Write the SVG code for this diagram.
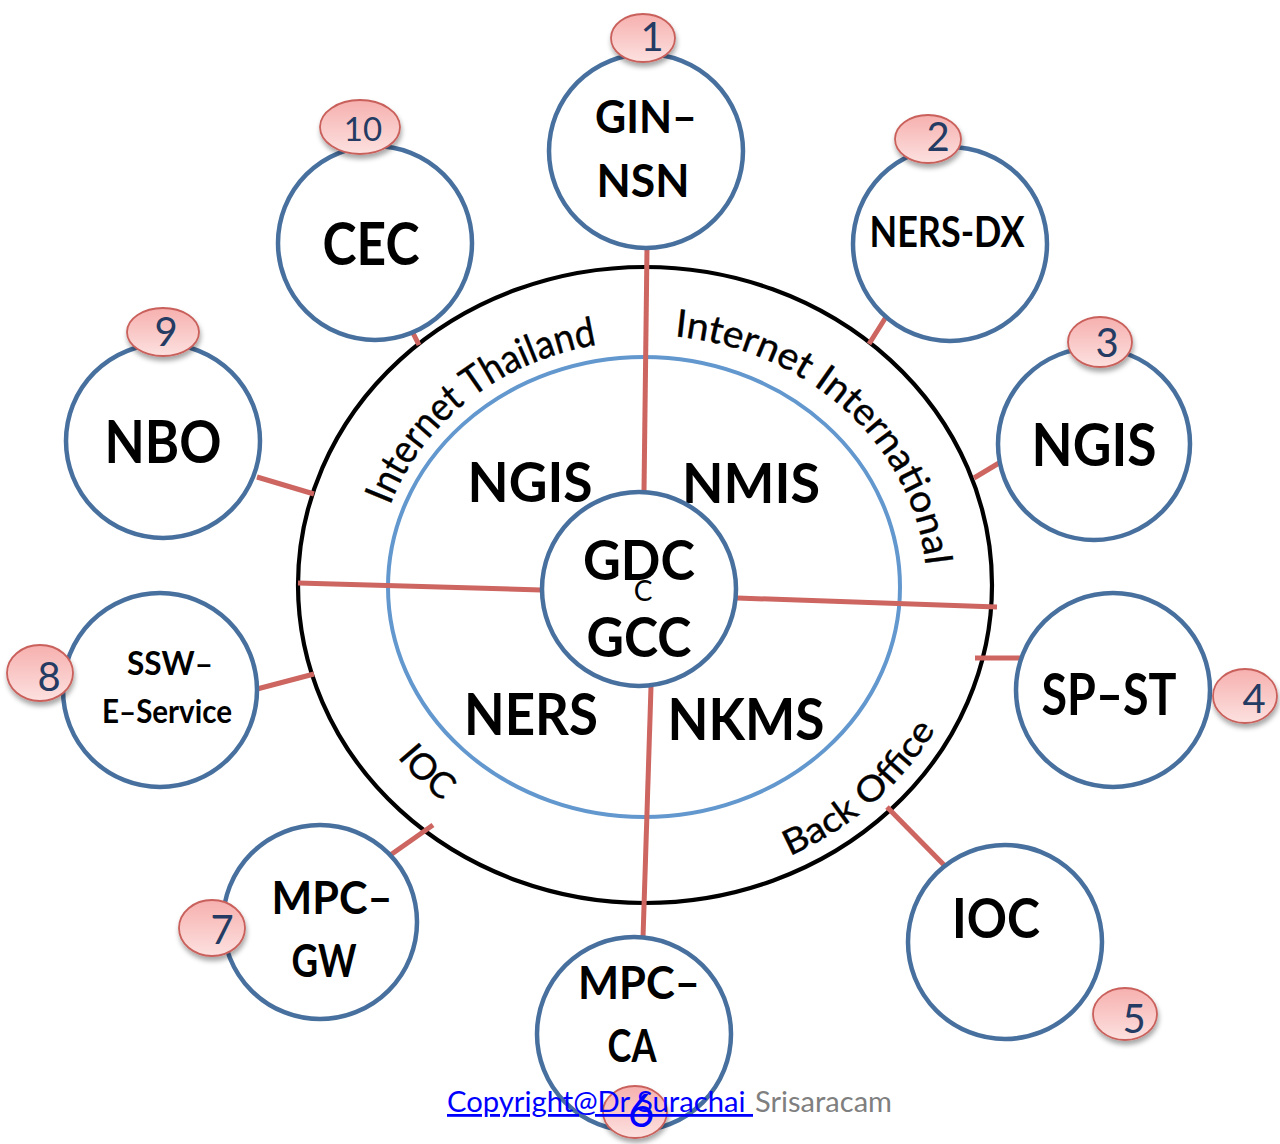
<svg xmlns="http://www.w3.org/2000/svg" width="1280" height="1144" viewBox="0 0 1280 1144">
<style>
.ring-o{fill:none;stroke:#000;stroke-width:4.2}
.ring-i{fill:none;stroke:#6398CF;stroke-width:4}
.node{fill:#fff;stroke:#48709E;stroke-width:4.5}
.badge{fill:url(#pink);stroke:#C9605B;stroke-width:1.8;filter:url(#sh)}
.conn{stroke:#CD6560;stroke-width:5;fill:none}
.lbl{font-family:Lato,"Open Sans",sans-serif;font-weight:700;fill:#000;text-anchor:middle}
.num{font-family:Lato,"Open Sans",sans-serif;font-weight:400;fill:#243B63;text-anchor:middle;font-size:40px}
.arc{font-family:Lato,"Open Sans",sans-serif;font-weight:400;fill:#000;font-size:38px;stroke:#000;stroke-width:0.4}
</style>
<defs>
<linearGradient id="pink" x1="0" y1="0" x2="0" y2="1">
<stop offset="0" stop-color="#F6B0AE"/>
<stop offset="1" stop-color="#FCE1E0"/>
</linearGradient>
<filter id="sh" x="-30%" y="-30%" width="160%" height="170%">
<feDropShadow dx="1" dy="4" stdDeviation="2.5" flood-color="#000" flood-opacity="0.35"/>
</filter>
<path id="pThai" d="M390.1 505.4 A270 245 0 0 1 602.8 344.0"/>
<path id="pIntl" d="M674.5 336.4 A282 255 0 0 1 926.3 572.2"/>
<path id="pIOC" d="M397.4 757.3 A310 283 0 0 0 591.2 865.7"/>
<path id="pBack" d="M789.7 856.0 A330 300 0 0 0 944.0 713.9"/>
</defs>
<rect width="1280" height="1144" fill="#fff"/>

<g id="rings">
<ellipse class="ring-o" cx="645" cy="585" rx="347" ry="318"/>
<ellipse class="ring-i" cx="644" cy="587" rx="256" ry="230"/>
</g>

<g id="connectors">
<line class="conn" x1="647" y1="248" x2="644" y2="492"/>
<line class="conn" x1="298" y1="583" x2="541" y2="590"/>
<line class="conn" x1="737" y1="598" x2="997" y2="607"/>
<line class="conn" x1="651" y1="687" x2="643" y2="938"/>
<line class="conn" x1="412" y1="331" x2="419" y2="345"/>
<line class="conn" x1="869" y1="344" x2="886" y2="317"/>
<line class="conn" x1="974" y1="478" x2="999" y2="463"/>
<line class="conn" x1="975" y1="658" x2="1033" y2="658"/>
<line class="conn" x1="887" y1="807" x2="946" y2="867"/>
<line class="conn" x1="389" y1="856" x2="433" y2="825"/>
<line class="conn" x1="257" y1="689" x2="314" y2="674"/>
<line class="conn" x1="257" y1="477" x2="314" y2="494"/>
</g>

<g id="ring-labels">
<text class="arc" style="font-size:40px"><textPath href="#pThai" textLength="274" lengthAdjust="spacingAndGlyphs">Internet Thailand</textPath></text>
<text class="arc"><textPath href="#pIntl" textLength="368" lengthAdjust="spacingAndGlyphs">Internet International</textPath></text>
<text class="arc" style="font-size:36px"><textPath href="#pIOC">IOC</textPath></text>
<text class="arc" style="font-size:35px"><textPath href="#pBack" textLength="196" lengthAdjust="spacingAndGlyphs">Back Office</textPath></text>
<text class="lbl" x="530" y="502" font-size="56" textLength="125" lengthAdjust="spacingAndGlyphs">NGIS</text>
<text class="lbl" x="751" y="503" font-size="56" textLength="138" lengthAdjust="spacingAndGlyphs">NMIS</text>
<text class="lbl" x="531" y="735" font-size="58" textLength="134" lengthAdjust="spacingAndGlyphs">NERS</text>
<text class="lbl" x="746" y="740" font-size="58" textLength="157" lengthAdjust="spacingAndGlyphs">NKMS</text>
</g>

<g id="node-center">
<circle class="node" cx="639" cy="589" r="97"/>
<text class="lbl" x="639" y="580" font-size="56" textLength="112" lengthAdjust="spacingAndGlyphs">GDC</text>
<text class="lbl" x="643" y="601" font-size="28" style="font-weight:400">C</text>
<text class="lbl" x="639" y="657" font-size="56" textLength="105" lengthAdjust="spacingAndGlyphs">GCC</text>
</g>

<g id="node-1">
<circle class="node" cx="646" cy="151" r="97"/>
<text class="lbl" x="646" y="133" font-size="46" textLength="102" lengthAdjust="spacingAndGlyphs">GIN–</text>
<text class="lbl" x="643" y="197" font-size="46" textLength="93" lengthAdjust="spacingAndGlyphs">NSN</text>
<ellipse class="badge" cx="643" cy="38" rx="32" ry="24"/>
<text class="num" x="652" y="51">1</text>
</g>

<g id="node-2">
<circle class="node" cx="950" cy="244" r="97"/>
<text class="lbl" x="947" y="247" font-size="42" textLength="155" lengthAdjust="spacingAndGlyphs">NERS-DX</text>
<ellipse class="badge" cx="928" cy="139" rx="33" ry="24"/>
<text class="num" x="938" y="151">2</text>
</g>

<g id="node-3">
<circle class="node" cx="1094" cy="444" r="96"/>
<text class="lbl" x="1094" y="466" font-size="60" textLength="125" lengthAdjust="spacingAndGlyphs">NGIS</text>
<ellipse class="badge" cx="1100" cy="342" rx="32" ry="25"/>
<text class="num" x="1107" y="357">3</text>
</g>

<g id="node-4">
<circle class="node" cx="1113" cy="690" r="97"/>
<text class="lbl" x="1109" y="715" font-size="58" textLength="135" lengthAdjust="spacingAndGlyphs">SP–ST</text>
<ellipse class="badge" cx="1245" cy="696" rx="32" ry="27"/>
<text class="num" x="1254" y="713">4</text>
</g>

<g id="node-5">
<circle class="node" cx="1005" cy="942" r="97"/>
<text class="lbl" x="996" y="938" font-size="56" textLength="88" lengthAdjust="spacingAndGlyphs">IOC</text>
<ellipse class="badge" cx="1125" cy="1014" rx="32" ry="26"/>
<text class="num" x="1134" y="1033">5</text>
</g>

<g id="node-6">
<circle class="node" cx="634" cy="1034" r="97"/>
<text class="lbl" x="639" y="999" font-size="46" textLength="122" lengthAdjust="spacingAndGlyphs">MPC–</text>
<text class="lbl" x="632" y="1062" font-size="46" textLength="49" lengthAdjust="spacingAndGlyphs">CA</text>
<ellipse class="badge" cx="635" cy="1112" rx="32" ry="26"/>
</g>

<g id="node-7">
<circle class="node" cx="320" cy="922" r="97"/>
<text class="lbl" x="332" y="914" font-size="46" textLength="121" lengthAdjust="spacingAndGlyphs">MPC–</text>
<text class="lbl" x="324" y="977" font-size="46" textLength="65" lengthAdjust="spacingAndGlyphs">GW</text>
<ellipse class="badge" cx="212" cy="928" rx="33" ry="28"/>
<text class="num" x="222" y="944">7</text>
</g>

<g id="node-8">
<circle class="node" cx="160" cy="690" r="97"/>
<text class="lbl" x="170" y="675" font-size="32" textLength="86" lengthAdjust="spacingAndGlyphs">SSW–</text>
<text class="lbl" x="167" y="723" font-size="32" textLength="130" lengthAdjust="spacingAndGlyphs">E–Service</text>
<ellipse class="badge" cx="40" cy="673" rx="33" ry="28"/>
<text class="num" x="49" y="691">8</text>
</g>

<g id="node-9">
<circle class="node" cx="163" cy="441" r="97"/>
<text class="lbl" x="163" y="463" font-size="60" textLength="117" lengthAdjust="spacingAndGlyphs">NBO</text>
<ellipse class="badge" cx="163" cy="332" rx="36" ry="24"/>
<text class="num" x="166" y="346">9</text>
</g>

<g id="node-10">
<circle class="node" cx="375" cy="243" r="97"/>
<text class="lbl" x="371" y="265" font-size="60" textLength="97" lengthAdjust="spacingAndGlyphs">CEC</text>
<ellipse class="badge" cx="360" cy="127" rx="40" ry="27"/>
<text class="num" x="363" y="141" style="font-size:33px">10</text>
</g>

<g id="copyright">
<text x="641" y="1127" font-family="Lato, 'Open Sans', sans-serif" font-size="46" fill="#0000FF" text-anchor="middle">6</text>
<text x="447" y="1112" font-family="Lato, 'Open Sans', sans-serif" font-size="28" fill="#0000FF" text-decoration="underline" xml:space="preserve" textLength="306" lengthAdjust="spacingAndGlyphs">Copyright@Dr Surachai </text>
<text x="755" y="1112" font-family="Lato, 'Open Sans', sans-serif" font-size="28" fill="#7F7F7F" textLength="137" lengthAdjust="spacingAndGlyphs">Srisaracam</text>
</g>
</svg>
